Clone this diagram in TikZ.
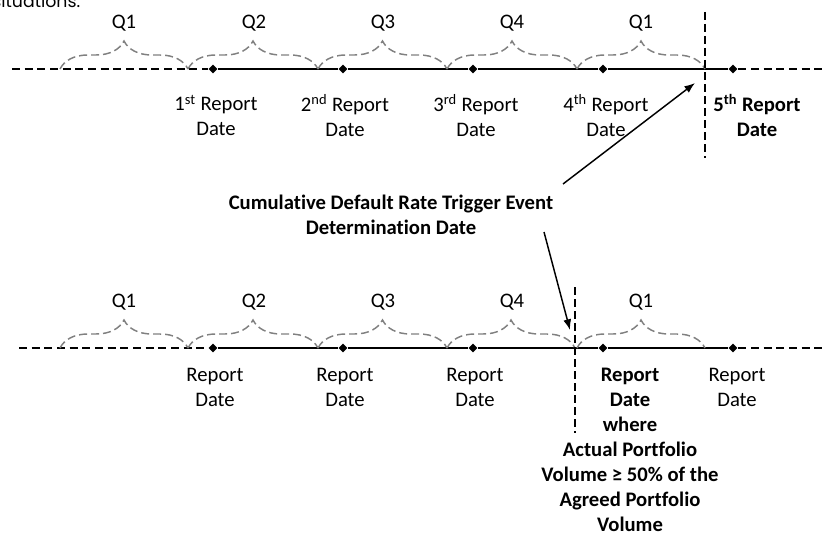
\documentclass[tikz,border=0pt]{standalone}
\usepackage{fontspec}
\setmainfont{Carlito}[Ligatures=NoCommon]
\newfontfamily\gothicfont{Poppins}
\usetikzlibrary{shapes.geometric,decorations.pathreplacing,arrows.meta}

\tikzset{every picture/.style={line width=1.1pt}}
\tikzset{
  rdate/.style={diamond,fill=black,inner sep=0pt,minimum size=7pt},
  qbrace/.style={draw={rgb, 255:red, 128; green, 128; blue, 128 },dash pattern=on 6pt off 3pt,decorate,decoration={brace,amplitude=21pt}},
  tline/.style={dash pattern=on 6pt off 3.5pt},
  vline/.style={dash pattern=on 6pt off 3pt},
  txt/.style={align=center,inner sep=0pt,font=\fontsize{15.5}{18.75}\selectfont},
  btxt/.style={txt,font=\fontsize{15.5}{18.75}\selectfont\bfseries},
}

\begin{document}
\begin{tikzpicture}[x=0.75pt,y=0.75pt,yscale=-1,xscale=1]
\useasboundingbox (0,0) rectangle (830,535);

% Text Node (cut off heading)
\node (head) [anchor=base east,inner sep=0pt,font=\gothicfont\fontsize{13}{15}\selectfont] at (81,8) {situations:};

%%% top timeline
\coordinate (tl) at (12,69);
\coordinate (tr) at (827,69);
\node (t1) [rdate] at (213,69) {};
\node (t2) [rdate] at (343,69) {};
\node (t3) [rdate] at (473,69) {};
\node (t4) [rdate] at (603,69) {};
\node (t5) [rdate] at (733,69) {};
%Straight Lines
\draw [tline] (tl) -- (t1);
\draw (t1) -- (t2) -- (t3) -- (t4) -- (t5);
\draw [tline] (t5) -- (tr);
%Shape: Braces
\draw [qbrace] (60,69) -- (188,69);
\draw [qbrace] (188,69) -- (318,69);
\draw [qbrace] (318,69) -- (447,69);
\draw [qbrace] (447,69) -- (577,69);
\draw [qbrace] (577,69) -- (705,69);
% Text Node
\node (tq1) [txt] at (124,23) {Q1};
\node (tq2) [txt] at (254,23) {Q2};
\node (tq3) [txt] at (383,23) {Q3};
\node (tq4) [txt] at (512,23) {Q4};
\node (tq5) [txt] at (641,23) {Q1};
%Straight Lines
\coordinate (v1a) at (705,12);
\coordinate (v1b) at (705,158);
\draw [vline] (v1a) -- (v1b);
% Text Node
\node (td1) [txt] at (216,115.5) {1\textsuperscript{st} Report\\Date};
\node (td2) [txt] at (345,115.5) {2\textsuperscript{nd} Report\\Date};
\node (td3) [txt] at (476,115.5) {3\textsuperscript{rd} Report\\Date};
\node (td4) [txt] at (606,115.5) {4\textsuperscript{th} Report\\Date};
\node (td5) [btxt] at (757,115.5) {5\textsuperscript{th} Report\\Date};

% Text Node
\node (cdr) [btxt] at (391,215) {Cumulative Default Rate Trigger Event\\Determination Date};

%%% bottom timeline
\coordinate (bl) at (19,348);
\coordinate (br) at (827,348);
\node (b1) [rdate] at (213,348) {};
\node (b2) [rdate] at (343,348) {};
\node (b3) [rdate] at (473,348) {};
\node (b4) [rdate] at (603,348) {};
\node (b5) [rdate] at (733,348) {};
%Straight Lines
\draw [tline] (bl) -- (b1);
\draw (b1) -- (b2) -- (b3) -- (b4) -- (b5);
\draw [tline] (b5) -- (br);
%Shape: Braces
\draw [qbrace] (60,348) -- (188,348);
\draw [qbrace] (188,348) -- (318,348);
\draw [qbrace] (318,348) -- (447,348);
\draw [qbrace] (447,348) -- (575,348);
\draw [qbrace] (577,348) -- (705,348);
% Text Node
\node (bq1) [txt] at (124,302) {Q1};
\node (bq2) [txt] at (254,302) {Q2};
\node (bq3) [txt] at (383,302) {Q3};
\node (bq4) [txt] at (512,302) {Q4};
\node (bq5) [txt] at (641,302) {Q1};
%Straight Lines
\coordinate (v2a) at (575,287);
\coordinate (v2b) at (575,433);
\draw [vline] (v2a) -- (v2b);
% Text Node
\node (bd1) [txt] at (215,387.5) {Report\\Date};
\node (bd2) [txt] at (345,387.5) {Report\\Date};
\node (bd3) [txt] at (475,387.5) {Report\\Date};
\node (bd4) [btxt] at (630,449.5) {Report\\Date\\where\\Actual Portfolio\\Volume ≥ 50\% of the\\Agreed Portfolio\\Volume};
\node (bd5) [txt] at (737,387.5) {Report\\Date};

%Straight Lines (arrows)
\coordinate (a1) at (563,184);
\coordinate (a1e) at (695,83);
\coordinate (a2) at (544,232);
\coordinate (a2e) at (570,330);
\draw [-{Latex[length=8pt,width=6pt]}] (a1) -- (a1e);
\draw [-{Latex[length=8pt,width=6pt]}] (a2) -- (a2e);

\end{tikzpicture}
\end{document}
